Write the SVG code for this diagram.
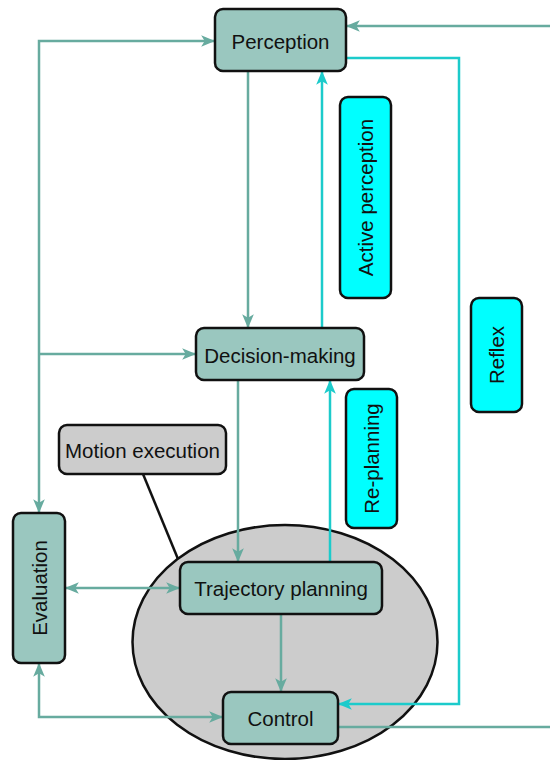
<svg xmlns="http://www.w3.org/2000/svg" width="550" height="760" viewBox="0 0 550 760">
  <style>
    .node { fill: #9AC7BF; stroke: #111; stroke-width: 2.5; }
    .reflex { fill: #00FFFF; stroke: #111; stroke-width: 2.5; }
    .grey { fill: #CCCCCC; stroke: #111; stroke-width: 2.5; }
    .lbl { font-family: "Liberation Sans", Arial, sans-serif; font-size: 20.5px; fill: #111; text-anchor: middle; dominant-baseline: central; }
    .edge { fill: none; stroke: #67AB9F; stroke-width: 2.5; }
    .fast { fill: none; stroke: #1CCBCB; stroke-width: 2.5; }
  </style>
  <defs>
    <marker id="arrG" viewBox="0 0 12 10" refX="11" refY="5" markerWidth="14" markerHeight="12" markerUnits="userSpaceOnUse" orient="auto-start-reverse">
      <path d="M0,0 L12,5 L0,10 L3,5 z" fill="#67AB9F"/>
    </marker>
    <marker id="arrC" viewBox="0 0 12 10" refX="11" refY="5" markerWidth="14" markerHeight="12" markerUnits="userSpaceOnUse" orient="auto-start-reverse">
      <path d="M0,0 L12,5 L0,10 L3,5 z" fill="#1CCBCB"/>
    </marker>
  </defs>

  <!-- execution region -->
  <g id="execution-region">
    <ellipse class="grey" cx="285" cy="642" rx="152.5" ry="117"/>
  </g>

  <!-- connectors -->
  <g id="connectors">
    <path class="edge" d="M248,71 L248,327" marker-end="url(#arrG)"/>
    <path class="fast" d="M322,328 L322,72" marker-end="url(#arrC)"/>
    <path class="edge" d="M39,512 L39,41 L214,41" marker-start="url(#arrG)" marker-end="url(#arrG)"/>
    <path class="edge" d="M39,354 L195,354" marker-end="url(#arrG)"/>
    <path class="edge" d="M66,588 L179,588" marker-start="url(#arrG)" marker-end="url(#arrG)"/>
    <path class="edge" d="M238,380 L238,561" marker-end="url(#arrG)"/>
    <path class="fast" d="M330,562 L330,381" marker-end="url(#arrC)"/>
    <path class="edge" d="M281,614 L281,691" marker-end="url(#arrG)"/>
    <path class="edge" d="M39,664 L39,717 L222,717" marker-start="url(#arrG)" marker-end="url(#arrG)"/>
    <path class="fast" d="M346,58 L459,58 L459,704 L339,704" marker-end="url(#arrC)"/>
    <path class="edge" d="M338,727 L552,727"/>
    <path class="edge" d="M552,26 L347,26" marker-end="url(#arrG)"/>
    <path d="M143,474 L178,559" fill="none" stroke="#111" stroke-width="2.5"/>
  </g>

  <g id="perception">
    <rect class="node" x="215" y="9" width="131" height="62" rx="8"/>
    <text class="lbl" x="280.5" y="41">Perception</text>
  </g>

  <g id="decision-making">
    <rect class="node" x="196" y="328" width="168" height="52" rx="8"/>
    <text class="lbl" x="280" y="355">Decision-making</text>
  </g>

  <g id="trajectory-planning">
    <rect class="node" x="180" y="562" width="202" height="52" rx="8"/>
    <text class="lbl" x="281" y="588">Trajectory planning</text>
  </g>

  <g id="control">
    <rect class="node" x="223" y="692" width="115" height="52" rx="8"/>
    <text class="lbl" x="280.5" y="718">Control</text>
  </g>

  <g id="evaluation">
    <rect class="node" x="13" y="513" width="52" height="150" rx="8"/>
    <text class="lbl" transform="translate(39,588) rotate(-90)">Evaluation</text>
  </g>

  <g id="motion-execution">
    <rect class="grey" x="59" y="425" width="167" height="49" rx="8"/>
    <text class="lbl" x="142.5" y="450">Motion execution</text>
  </g>

  <g id="active-perception">
    <rect class="reflex" x="340" y="97" width="51" height="201" rx="8"/>
    <text class="lbl" transform="translate(365.5,197.5) rotate(-90)">Active perception</text>
  </g>

  <g id="re-planning">
    <rect class="reflex" x="346" y="389" width="51" height="139" rx="8"/>
    <text class="lbl" transform="translate(371.5,458.5) rotate(-90)">Re-planning</text>
  </g>

  <g id="reflex">
    <rect class="reflex" x="471" y="298" width="51" height="114" rx="8"/>
    <text class="lbl" transform="translate(496.5,355) rotate(-90)">Reflex</text>
  </g>
</svg>
